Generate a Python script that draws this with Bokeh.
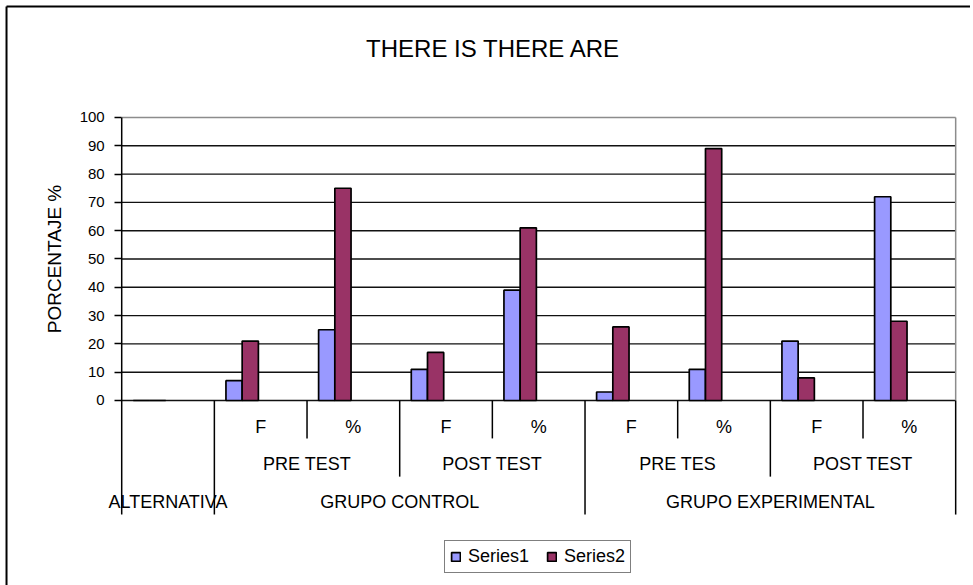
import math
from bokeh.plotting import figure
from bokeh.models import Range1d, FixedTicker, ColumnDataSource, Legend, LegendItem
from bokeh.embed import file_html
from bokeh.resources import INLINE
from bokeh.core.properties import value
from bokeh.transform import dodge

# ---------------- data ----------------
title_text = "THERE IS THERE ARE"
y_label = "PORCENTAJE %"
level1 = ["", "F", "%", "F", "%", "F", "%", "F", "%"]          # innermost labels (one per bar group)
level2 = ["PRE TEST", "POST TEST", "PRE TES", "POST TEST"]       # each spans 2 groups
level2_span = [(1, 2), (3, 4), (5, 6), (7, 8)]
level3 = ["ALTERNATIVA", "GRUPO CONTROL", "GRUPO EXPERIMENTAL"]
level3_span = [(0, 0), (1, 4), (5, 8)]
series_names = ["Series1", "Series2"]
series1 = [0, 7, 25, 11, 39, 3, 11, 21, 72]
series2 = [0, 21, 75, 17, 61, 26, 89, 8, 28]
y_ticks = [0, 10, 20, 30, 40, 50, 60, 70, 80, 90, 100]

# ---------------- style ----------------
FONT = "Liberation Sans"
C1 = "#9999FF"
C2 = "#993366"
n = len(level1)
ymax = y_ticks[-1]

# the plot frame covers the whole canvas; the value axis sits at x = 0
p = figure(width=970, height=585, output_backend="svg", toolbar_location=None,
           x_range=Range1d(-1.308, 9.160), y_range=Range1d(-65.37, 141.34),
           x_axis_location=None,
           min_border_left=0, min_border_right=0, min_border_top=0, min_border_bottom=0)
p.outline_line_color = None
p.background_fill_color = "white"
p.border_fill_color = "white"

ax = p.yaxis[0]
ax.fixed_location = 0
ax.ticker = FixedTicker(ticks=y_ticks)
ax.axis_line_color = None
ax.major_tick_out = 7
ax.major_tick_in = 0
ax.minor_tick_out = 0
ax.minor_tick_in = 0
ax.major_tick_line_color = "black"
ax.major_tick_line_width = 1.5
ax.major_label_text_font = FONT
ax.major_label_text_font_size = "15px"
ax.major_label_text_color = "black"
ax.major_label_standoff = 10

p.xgrid.visible = False
p.ygrid.visible = False

# chart-area border (top and left edges visible in the picture)
p.segment(x0=[-1.243, -1.243], y0=[139.22, 139.22], x1=[9.160, -1.243], y1=[139.22, -65.37],
          line_color="black", line_width=2)

# title and value-axis title
p.text(x=[4.012], y=[124.4], text=[title_text], text_align="center", text_baseline="middle",
       text_font=value(FONT), text_font_size="24px", text_color="black")
p.text(x=[-0.73], y=[ymax / 2], text=[y_label], angle=math.pi / 2,
       text_align="center", text_baseline="middle",
       text_font=value(FONT), text_font_size="19px", text_color="black")

# horizontal gridlines across the plot area (0..n)
grid_vals = y_ticks[:-1]
p.segment(x0=[0] * len(grid_vals), y0=grid_vals, x1=[n] * len(grid_vals), y1=grid_vals,
          line_color="#111111", line_width=1.4)
# plot-area border (grey) on top and right
p.segment(x0=[0, n], y0=[ymax, 0], x1=[n, n], y1=[ymax, ymax],
          line_color="#8c8c8c", line_width=1.5)

# ---------------- bars ----------------
xs = [i + 0.5 for i in range(n)]
src = ColumnDataSource(dict(x=xs, s1=series1, s2=series2))
bw = 0.175
r1 = p.vbar(x=dodge("x", -0.2 - bw / 2), top="s1", bottom=0, width=bw, source=src,
            fill_color=C1, line_color="black", line_width=1.7)
r2 = p.vbar(x=dodge("x", -0.2 + bw / 2), top="s2", bottom=0, width=bw, source=src,
            fill_color=C2, line_color="black", line_width=1.7)

# ---------------- category table below the axis ----------------
d_short, d_mid, d_full = -13.4, -26.9, -40.3
row_y = [-9.4, -22.3, -35.9]
l3_bounds = sorted({a for a, b in level3_span} | {b + 1 for a, b in level3_span})
l2_bounds = sorted({a for a, b in level2_span} | {b + 1 for a, b in level2_span})
sx, sy0, sy1 = [], [], []
for b in range(n + 1):
    if b in l3_bounds:
        depth = d_full
    elif b in l2_bounds:
        depth = d_mid
    else:
        depth = d_short
    sx.append(b)
    sy0.append(ymax if b == 0 else 0)
    sy1.append(depth)
p.segment(x0=sx, y0=sy0, x1=sx, y1=sy1, line_color="black", line_width=1.5)

p.text(x=xs, y=[row_y[0]] * n, text=level1, text_align="center", text_baseline="middle",
       text_font=value(FONT), text_font_size="18px", text_color="black")
p.text(x=[(a + b + 1) / 2 for a, b in level2_span], y=[row_y[1]] * len(level2), text=level2,
       text_align="center", text_baseline="middle",
       text_font=value(FONT), text_font_size="18px", text_color="black")
p.text(x=[(a + b + 1) / 2 for a, b in level3_span], y=[row_y[2]] * len(level3), text=level3,
       text_align="center", text_baseline="middle",
       text_font=value(FONT), text_font_size="18px", text_color="black")

# ---------------- legend ----------------
legend = Legend(items=[LegendItem(label=series_names[0], renderers=[r1]),
                       LegendItem(label=series_names[1], renderers=[r2])],
                location=(444, 12), orientation="horizontal",
                glyph_width=11, glyph_height=11, label_standoff=7, spacing=17, padding=5,
                margin=0, label_text_font=FONT, label_text_font_size="18px",
                label_text_color="black", border_line_color="black", border_line_width=1.5,
                background_fill_color="white", background_fill_alpha=1.0)
p.add_layout(legend)

open("out.html", "w").write(file_html(p, INLINE))
